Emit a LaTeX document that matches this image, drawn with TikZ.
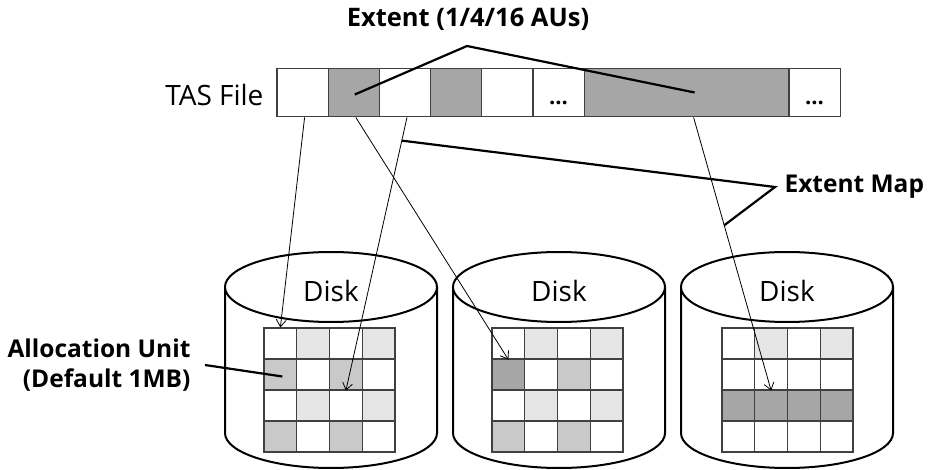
\documentclass[tikz,border=0pt]{standalone}
\usepackage{fontspec}
\setmainfont{Open Sans}
\usetikzlibrary{arrows.meta,calc}
\definecolor{auW}{HTML}{FFFFFF}
\definecolor{auL}{HTML}{E6E6E6}
\definecolor{auM}{HTML}{C9C9C9}
\definecolor{auD}{HTML}{A6A6A6}
\definecolor{edge}{HTML}{404040}
\begin{document}
\begin{tikzpicture}[x=1pt,y=-1pt,
  cell/.style={draw=edge, line width=1.3pt, minimum height=48.5pt, minimum width=51.2pt, inner sep=0pt},
  au/.style={draw=edge, line width=1.2pt, minimum width=32.75pt, minimum height=31pt, inner sep=0pt},
  disk/.style={line width=2pt, draw=black},
  arr/.style={line width=0.8pt, -{Straight Barb[length=7pt,width=10pt]}},
  callout/.style={line width=2.2pt, line join=miter},
  bold/.style={font=\fontsize{24.5}{30}\selectfont\bfseries},
  reg/.style={font=\fontsize{28}{32}\selectfont},
  dots/.style={font=\fontsize{22}{24}\selectfont\bfseries, inner sep=0pt},
]
\useasboundingbox (0,0) rectangle (929,470);

% disks
\foreach \n/\cx in {L/331, M/559, R/787} {
  \draw[disk] (\cx-106,287) -- (\cx-106,433) arc[start angle=180,end angle=360,x radius=106pt,y radius=35pt] -- (\cx+106,287);
  \draw[disk,fill=white] (\cx,287) ellipse[x radius=106pt,y radius=35pt];
  \node[reg] (disk\n) at (\cx,291) {Disk};
}

% allocation unit grids
\foreach \g/\gx/\cols in {L/264/{W,L,W,L,M,W,M,W,W,L,W,L,M,W,M,W},
                          M/492/{W,L,W,L,D,W,M,W,W,L,W,L,M,W,M,W},
                          R/722/{W,L,W,L,W,W,W,W,D,D,D,D,W,W,W,W}} {
  \foreach \col [count=\i from 0] in \cols {
    \pgfmathtruncatemacro\rr{div(\i,4)+1}
    \pgfmathtruncatemacro\cc{mod(\i,4)+1}
    \node[au, fill=au\col] (\g\rr\cc) at (\gx+32.75*\cc-16.375, 328+31*\rr-15.5) {};
  }
}

% TAS file bar
\node[reg, anchor=east] (tas) at (267,95) {TAS File};
\foreach \i/\col in {1/W,2/D,3/W,4/D,5/W,6/W}
  \node[cell, fill=au\col] (f\i) at (277+51.2*\i-25.6, 92.5) {};
\node[cell, fill=auD, minimum width=204.8pt] (fbig) at (686.6,92.5) {};
\node[cell, fill=auW] (fend) at (814.6,92.5) {};
\node[dots, anchor=base] (d1) at ([yshift=-12pt]f6.center) {...};
\node[dots, anchor=base] (d2) at ([yshift=-12pt]fend.center) {...};

% mapping arrows
\draw[arr] ([xshift=2pt]f1.south) -- (L11.north);
\draw[arr] ([xshift=2pt]f2.south) -- (M11.south);
\draw[arr] ([xshift=2pt]f3.south) -- coordinate[pos=0.085] (emA) (L23.south);
\draw[arr] ([xshift=7pt]fbig.south) -- coordinate[pos=0.395] (emB) (R22.south);

% Extent label
\node[font=\fontsize{25.5}{30}\selectfont\bfseries] (ext) at (468,19) {Extent (1/4/16 AUs)};
\coordinate (extApex) at (467,46);
\draw[callout] ([xshift=1pt,yshift=-2pt]f2.center) -- (extApex) -- ([xshift=8pt]fbig.center);

% Extent Map label
\node[bold, anchor=west] (emap) at (781,187) {Extent Map};
\coordinate (emApex) at ([xshift=-6pt]emap.west);
\draw[callout] (emA) -- (emApex) -- (emB);

% Allocation unit label
\node[bold, align=right, anchor=east] (alloc) at (194,365) {Allocation Unit\\(Default 1MB)};
\draw[callout] ([xshift=11pt]alloc.east) -- ([xshift=2pt,yshift=-2pt]L21.center);
\end{tikzpicture}
\end{document}
